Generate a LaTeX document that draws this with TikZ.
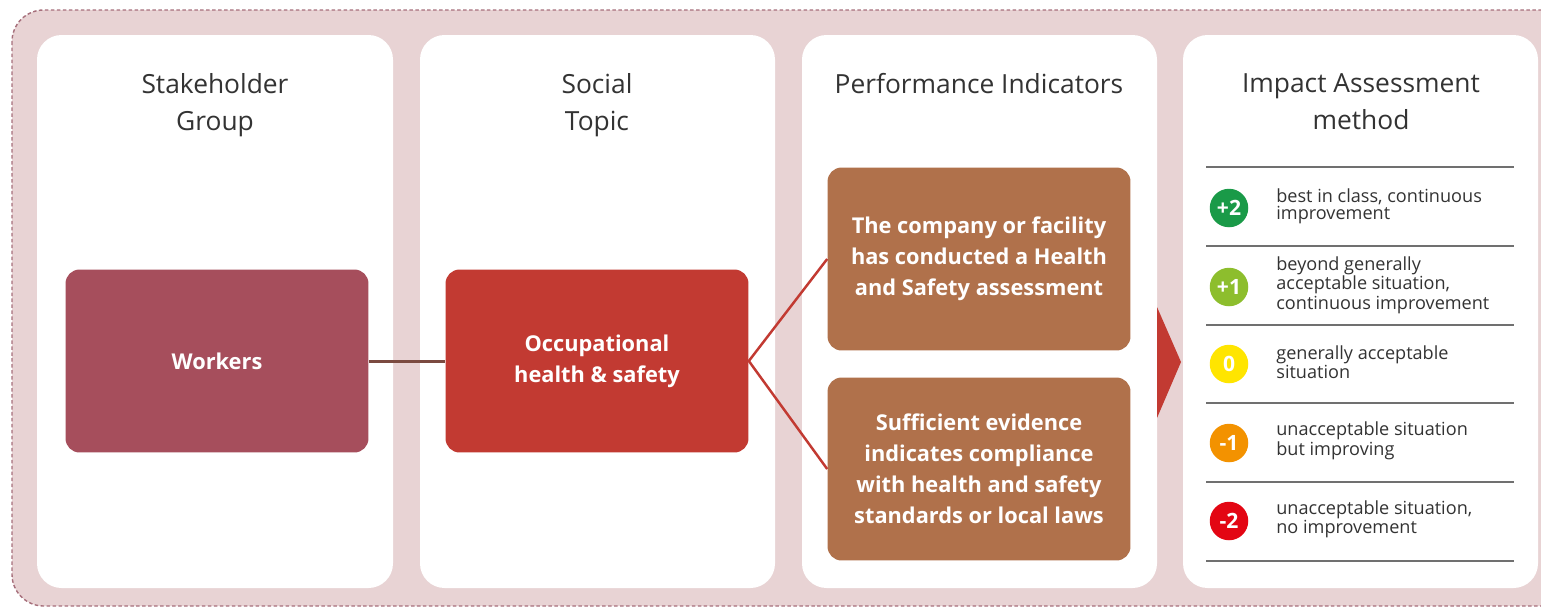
\documentclass[tikz,border=0pt]{standalone}
\usepackage{fontspec}
\setmainfont{Open Sans}
\usepackage{tikz}
\usetikzlibrary{positioning}
\definecolor{bgpink}{HTML}{E8D3D4}
\definecolor{dashpink}{HTML}{A66F7B}
\definecolor{workred}{HTML}{A64E5C}
\definecolor{ohsred}{HTML}{C23A32}
\definecolor{indbrown}{HTML}{B0714B}
\definecolor{linkbrown}{HTML}{7B4A40}
\definecolor{headgray}{HTML}{333333}
\definecolor{rulegray}{HTML}{707070}
\definecolor{scgreen}{HTML}{1A9A48}
\definecolor{sclime}{HTML}{8DBE2D}
\definecolor{scyellow}{HTML}{FFE500}
\definecolor{scorange}{HTML}{F39200}
\definecolor{scred}{HTML}{E30613}
\tikzset{
  panel/.style={fill=white, rounded corners=14pt},
  box/.style={rounded corners=8pt, minimum width=6.06cm, minimum height=3.66cm,
    text=white, align=center, font=\bfseries\fontsize{12.4}{17.6}\selectfont},
  head/.style={anchor=north, align=center, text=headgray, inner sep=0pt,
    font=\fontsize{15}{21}\selectfont},
  score/.style={circle, minimum size=0.77cm, inner sep=0pt, text=white,
    font=\bfseries\fontsize{12}{12}\selectfont},
  note/.style={anchor=west, align=left, inner sep=0pt, text=headgray,
    font=\fontsize{10.3}{9.8}\selectfont},
}
\begin{document}
\begin{tikzpicture}[x=0.02cm, y=-0.02cm]
            \useasboundingbox (0, 0) rectangle (1541, 609);
            \clip (0, 0) rectangle (1541, 609);
            % background and panels
            \draw[fill=bgpink, draw=dashpink, dash pattern=on 2pt off 1.4pt, line width=0.8pt, rounded corners=18pt](12, 10) rectangle (1600, 606);
            \fill[panel](37, 35) rectangle (393, 588);
            \fill[panel](420, 35) rectangle (775, 588);
            \fill[panel](802, 35) rectangle (1157, 588);
            \fill[panel](1183, 35) rectangle (1538, 588);
            % column titles
            \node[head] (hstake) at (215, 73) {Stakeholder\\Group};
            \node[head] (htopic) at (597, 73) {Social\\Topic};
            \node[head] (hind) at (979, 73) {Performance Indicators};
            \node[head] (hmeth) at (1361, 73) {Impact Assessment\\method};
            % boxes
            \node[box, fill=workred] (workers) at (217, 361) {Workers};
            \node[box, fill=ohsred] (ohs) at (597, 361) {Occupational\\health \& safety};
            \node[box, fill=indbrown] (pia) at (979, 259) {The company or facility\\has conducted a Health\\and Safety assessment};
            \node[box, fill=indbrown] (pib) at (979, 469) {Sufficient evidence\\indicates compliance\\with health and safety\\standards or local laws};
            \draw[linkbrown, line width=1.7pt](workers) -- (ohs);
            \draw[ohsred, line width=1.4pt](pia.west) -- (ohs.east) -- (pib.west);
            \fill[ohsred](1157, 307) -- (1181, 362) -- (1157, 418) -- cycle;
            % scale
            \foreach \y in {167, 246, 325, 403, 482, 561}
                \draw[rulegray, line width=0.8pt](1206, \y) -- (1514, \y);
            \foreach \i/\y/\v/\c/\t in {1/208/+2/scgreen/{best in class, continuous\\improvement},
                    2/287/+1/sclime/{beyond generally\\acceptable situation,\\continuous improvement},
                    3/364/0/scyellow/{generally acceptable\\situation},
                    4/443/-1/scorange/{unacceptable situation\\but improving},
                    5/521/-2/scred/{unacceptable situation,\\no improvement}}{
                \node[score, fill=\c] (s\i) at (1229, \y) {\v};
                \node[note] (n\i) at (1276, \y-2) {\t};
            }
        \end{tikzpicture}
\end{document}
